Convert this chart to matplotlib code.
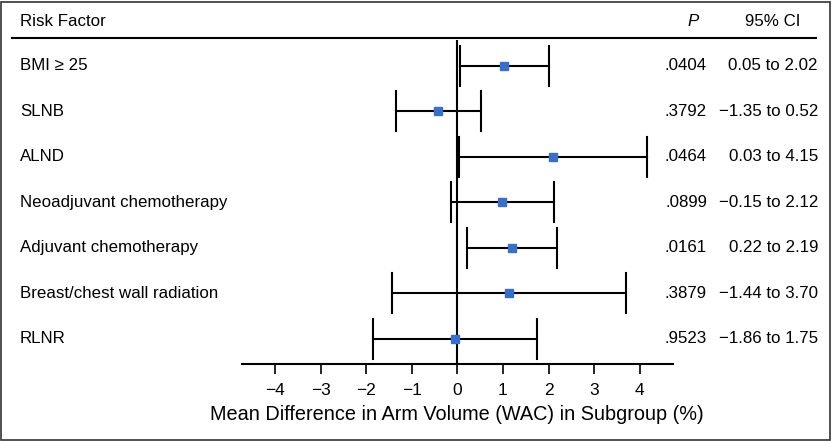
import matplotlib.pyplot as plt
import matplotlib.transforms as mtransforms
from matplotlib.lines import Line2D
from matplotlib.patches import Rectangle

# data
factors = ["BMI \u2265 25", "SLNB", "ALND", "Neoadjuvant chemotherapy",
           "Adjuvant chemotherapy", "Breast/chest wall radiation", "RLNR"]
mean_diff = [1.03, -0.42, 2.09, 0.98, 1.20, 1.13, -0.05]
ci_low = [0.05, -1.35, 0.03, -0.15, 0.22, -1.44, -1.86]
ci_high = [2.02, 0.52, 4.15, 2.12, 2.19, 3.70, 1.75]
p_values = [".0404", ".3792", ".0464", ".0899", ".0161", ".3879", ".9523"]
ci_labels = ["0.05 to 2.02", "\u22121.35 to 0.52", "0.03 to 4.15", "\u22120.15 to 2.12",
             "0.22 to 2.19", "\u22121.44 to 3.70", "\u22121.86 to 1.75"]
xticks = [-4, -3, -2, -1, 0, 1, 2, 3, 4]

plt.rcParams['font.family'] = ['Liberation Sans', 'DejaVu Sans']

W, H = 832, 441
fs = 12.2
fig = plt.figure(figsize=(W / 100, H / 100), dpi=100)

# forest plot axes
ax = fig.add_axes([241.7 / W, (H - 364) / H, (673 - 241.7) / W, (364 - 40) / H])
ax.set_xlim(-4.73, 4.73)
ax.set_ylim(6.55, -0.57)

rows = range(len(factors))
for i in rows:
    ax.plot([ci_low[i], ci_high[i]], [i, i], color='black', lw=1.5)
    ax.plot([ci_low[i], ci_low[i]], [i - 0.44, i + 0.44], color='black', lw=1.5)
    ax.plot([ci_high[i], ci_high[i]], [i - 0.44, i + 0.44], color='black', lw=1.5)
ax.plot(mean_diff, list(rows), 's', color='#3b6fc6', ms=5.5, ls='none', zorder=5)
ax.axvline(0, color='black', lw=1.5)

for s in ['top', 'right', 'left']:
    ax.spines[s].set_visible(False)
ax.spines['bottom'].set_linewidth(1.5)
ax.set_yticks([])
ax.set_xticks(xticks)
ax.set_xticklabels([str(t).replace('-', '\u2212') for t in xticks])
ax.tick_params(axis='x', direction='out', length=7, width=1.2, labelsize=12.5, pad=7)
ax.set_xlabel("Mean Difference in Arm Volume (WAC) in Subgroup (%)", fontsize=14.3, labelpad=5)

# table text, x in figure pixels, y in data rows
trans = mtransforms.blended_transform_factory(fig.transFigure, ax.transData)
for i in rows:
    ax.text(20 / W, i, factors[i], transform=trans, ha='left', va='center', fontsize=fs)
    ax.text(707 / W, i, p_values[i], transform=trans, ha='right', va='center', fontsize=fs)
    ax.text(818 / W, i, ci_labels[i], transform=trans, ha='right', va='center', fontsize=fs)

# header
fig.text(20 / W, 1 - 22 / H, "Risk Factor", ha='left', va='center', fontsize=fs)
fig.text(693 / W, 1 - 22 / H, "P", ha='center', va='center', fontsize=fs, style='italic')
fig.text(773 / W, 1 - 22 / H, "95% CI", ha='center', va='center', fontsize=fs)
fig.add_artist(Line2D([12 / W, 816 / W], [1 - 38 / H, 1 - 38 / H], color='black', lw=1.5))

# outer frame
fig.add_artist(Rectangle((1 / W, 1 / H), (W - 3) / W, (H - 3) / H, fill=False,
                         edgecolor='#333333', lw=1.2, transform=fig.transFigure))

fig.savefig("out.png", dpi=100)
